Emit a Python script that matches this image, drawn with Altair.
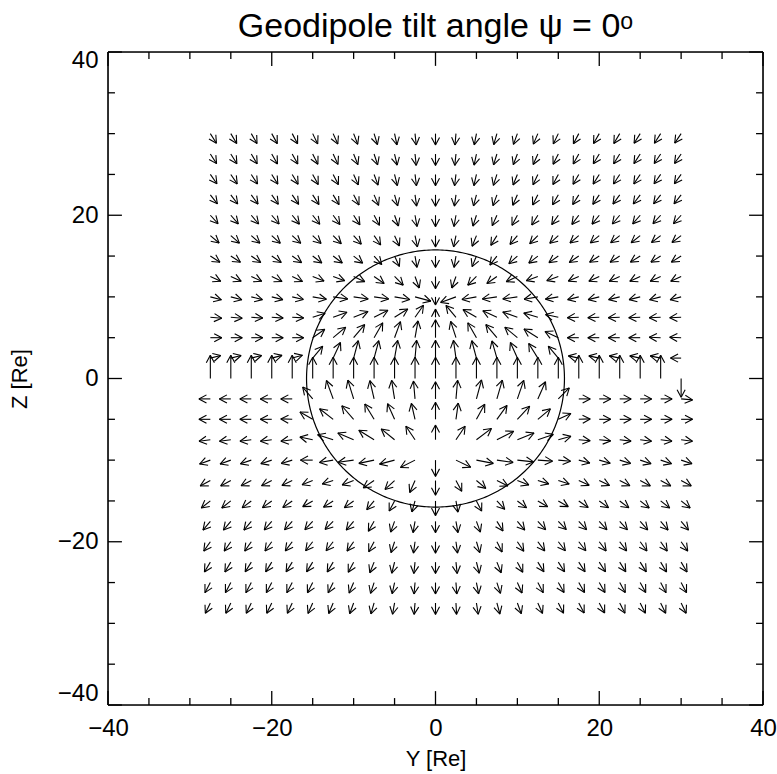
import math
import altair as alt
import pandas as pd

# ---- grid positions (data units) ----
Y_COLS = [-27.5, -25.0, -22.5, -20.0, -17.5, -15.0, -12.5, -10.0, -7.5, -5.0, -2.5, 0.0,
          2.5, 5.0, 7.5, 10.0, 12.5, 15.0, 17.5, 20.0, 22.5, 25.0, 27.5, 30.0]
Z_ROWS = [30.0, 27.5, 25.0, 22.5, 20.0, 17.5, 15.0, 12.5, 10.0, 7.5, 5.0, 2.5, 0.0,
          -2.5, -5.0, -7.5, -10.0, -12.5, -15.0, -17.5, -20.0, -22.5, -25.0, -27.5]

# ---- arrow directions (degrees, 0 = +Y, 90 = +Z), one list per row, top to bottom ----
ANG = [
    [-58, -59, -60, -61, -62, -64, -66, -69, -73, -78, -84, -90, -95, -101, -106, -110, -113, -116, -118, -120, -121, -122, -123, -124],
    [-57, -58, -59, -60, -61, -63, -65, -68, -72, -77, -84, -90, -96, -102, -107, -111, -114, -117, -119, -121, -122, -123, -124, -125],
    [-55, -56, -57, -58, -59, -61, -63, -66, -70, -76, -83, -90, -97, -103, -108, -112, -115, -118, -120, -122, -123, -124, -125, -126],
    [-52, -53, -54, -55, -56, -57, -59, -62, -67, -74, -82, -90, -98, -105, -110, -114, -117, -120, -122, -124, -126, -127, -128, -128],
    [-48, -49, -50, -50, -51, -52, -54, -57, -62, -70, -80, -90, -100, -108, -114, -118, -122, -125, -127, -129, -130, -131, -132, -132],
    [-40, -41, -41, -42, -42, -43, -45, -48, -55, -65, -78, -90, -102, -112, -122, -130, -135, -138, -140, -141, -142, -142, -143, -143],
    [-33, -33, -34, -34, -35, -37, -37, -38, -48, -65, -80, -90, -100, -112, -128, -138, -142, -145, -146, -147, -147, -148, -148, -148],
    [-25, -25, -25, -26, -26, -22, -20, -25, -35, -45, -70, -90, -110, -135, -145, -155, -160, -160, -156, -155, -155, -155, -155, -155],
    [-15, -15, -14, -14, -13, -10, -8, -8, -8, -10, -15, -90, -160, -170, -172, -172, -170, -170, -166, -166, -166, -166, -165, -165],
    [-5, -5, -4, -4, -3, 18, 20, 22, 27, 32, 55, 90, 130, 150, 155, 160, 163, 168, -178, -178, -178, -178, -178, -178],
    [0, 0, 0, 0, 0, 35, 40, 50, 60, 70, 80, 90, 108, 120, 130, 140, 148, 155, 180, 180, 180, 180, 178, 178],
    [14, 14, 14, 15, 16, 50, 65, 75, 75, 80, 85, 90, 98, 105, 106, 114, 122, 130, 168, 168, 168, 168, 168, 180],
    [90, 90, 90, 90, 90, 90, 90, 90, 90, 90, 90, 90, 90, 90, 90, 90, 90, 90, 90, 90, 90, 90, 90, -90],
    [180, 180, 180, 180, 180, 130, 110, 107, 103, 99, 95, 90, 85, 75, 74, 71, 66, 45, 0, 0, 0, 0, 0, -5],
    [180, 180, 180, 180, 178, 150, 142, 131, 121, 114, 103, 90, 82, 61, 54, 47, 40, 25, 2, 0, 0, 0, 0, 0],
    [-172, -172, -172, -172, -172, 168, 162, 157, 148, 141, 124, 90, 56, 37, 27, 22, 19, 15, -5, -6, -7, -8, -8, -8],
    [-160, -160, -161, -162, -163, 180, -170, -172, -168, -165, -153, -90, -26, -11, -8, -6, -4, -5, -15, -16, -17, -18, -18, -18],
    [-152, -152, -153, -153, -154, -158, -162, -159, -146, -137, -114, -90, -62, -40, -26, -21, -17, -18, -25, -26, -27, -28, -28, -28],
    [-142, -142, -143, -144, -145, -150, -147, -144, -130, -118, -106, -90, -80, -63, -47, -37, -31, -30, -35, -36, -37, -38, -38, -38],
    [-130, -130, -130, -131, -132, -133, -135, -130, -120, -110, -100, -90, -80, -70, -58, -50, -47, -46, -47, -48, -48, -49, -50, -50],
    [-125, -125, -125, -126, -127, -128, -128, -125, -118, -108, -98, -90, -82, -73, -63, -56, -53, -52, -52, -53, -53, -54, -55, -55],
    [-121, -121, -122, -122, -122, -122, -121, -118, -112, -104, -96, -90, -84, -76, -68, -62, -58, -57, -57, -57, -58, -58, -59, -59],
    [-118, -118, -118, -118, -118, -117, -116, -113, -108, -102, -95, -90, -86, -79, -72, -66, -62, -60, -60, -60, -61, -61, -62, -62],
    [-116, -116, -116, -116, -115, -114, -113, -110, -106, -100, -95, -90, -87, -81, -75, -70, -66, -63, -62, -62, -63, -63, -64, -64],
]

# ---- arrow lengths (data units), one list per row ----
LEN = [
    [1.4] * 24,
    [1.4] * 24,
    [1.4] * 24,
    [1.4] * 24,
    [1.4] * 24,
    [1.4] * 24,
    [1.4] * 24,
    [1.4, 1.4, 1.4, 1.4, 1.4, 1.5, 1.5, 1.5, 1.5, 1.5, 1.5, 1.5, 1.5, 1.5, 1.5, 1.5, 1.5, 1.5, 1.4, 1.4, 1.4, 1.4, 1.4, 1.4],
    [1.4, 1.4, 1.4, 1.4, 1.4, 1.7, 1.8, 1.8, 1.8, 1.9, 2.0, 1.0, 2.0, 1.8, 1.8, 1.8, 1.7, 1.6, 1.4, 1.4, 1.4, 1.4, 1.4, 1.4],
    [1.4, 1.4, 1.4, 1.4, 1.4, 1.6, 1.8, 1.9, 1.9, 1.9, 1.8, 1.0, 1.9, 1.9, 1.9, 1.9, 1.8, 1.6, 1.4, 1.4, 1.4, 1.4, 1.4, 1.4],
    [1.4, 1.4, 1.4, 1.4, 1.4, 1.8, 2.0, 2.1, 2.1, 2.1, 2.1, 2.2, 2.1, 2.1, 2.1, 2.0, 2.0, 1.8, 1.4, 1.4, 1.4, 1.4, 1.4, 1.4],
    [1.3, 1.3, 1.3, 1.3, 1.3, 1.9, 2.1, 2.2, 2.2, 2.2, 2.2, 2.2, 2.2, 2.2, 2.2, 2.1, 2.1, 1.9, 1.3, 1.3, 1.3, 1.3, 1.3, 1.3],
    [2.85, 2.85, 2.85, 2.85, 2.85, 2.6, 2.6, 2.6, 2.6, 2.6, 2.6, 2.6, 2.6, 2.6, 2.6, 2.6, 2.6, 2.6, 2.85, 2.85, 2.85, 2.85, 2.85, 2.3],
    [1.4, 1.4, 1.4, 1.4, 1.4, 1.9, 2.4, 2.4, 2.3, 2.3, 2.2, 2.1, 2.3, 2.4, 2.4, 2.4, 2.3, 1.9, 1.4, 1.4, 1.4, 1.4, 1.4, 1.4],
    [1.4, 1.4, 1.4, 1.4, 1.4, 1.8, 2.1, 2.2, 2.2, 2.1, 2.0, 2.1, 2.0, 2.1, 2.1, 2.2, 2.0, 1.7, 1.4, 1.4, 1.4, 1.4, 1.4, 1.4],
    [1.4, 1.4, 1.4, 1.4, 1.4, 1.6, 2.0, 2.1, 2.2, 2.1, 2.0, 1.8, 2.0, 2.3, 2.3, 2.2, 2.0, 1.6, 1.4, 1.4, 1.4, 1.4, 1.4, 1.4],
    [1.4, 1.4, 1.4, 1.4, 1.4, 1.5, 1.7, 1.9, 1.9, 1.9, 2.0, 2.0, 2.0, 2.1, 2.0, 2.0, 1.8, 1.5, 1.4, 1.4, 1.4, 1.4, 1.4, 1.4],
    [1.4, 1.4, 1.4, 1.4, 1.4, 1.4, 1.4, 1.5, 1.6, 1.6, 1.6, 1.8, 1.5, 1.5, 1.5, 1.5, 1.4, 1.4, 1.4, 1.4, 1.4, 1.4, 1.4, 1.4],
    [1.4, 1.4, 1.4, 1.4, 1.4, 1.4, 1.4, 1.4, 1.4, 1.4, 1.4, 1.8, 1.4, 1.4, 1.4, 1.4, 1.4, 1.4, 1.4, 1.4, 1.4, 1.4, 1.4, 1.4],
    [1.4] * 24,
    [1.4] * 24,
    [1.4] * 24,
    [1.4] * 24,
    [1.4] * 24,
]

CIRCLE_RADIUS = 15.75
CIRCLE_CENTER = (0.0, 0.0)
AXIS_RANGE = [-40, 40]
MAJOR_TICKS = [-40, -20, 0, 20, 40]
MINOR_TICKS = [-35, -30, -25, -15, -10, -5, 5, 10, 15, 25, 30, 35]
TITLE = "Geodipole tilt angle \u03c8 = 0\u1d52"

# style constants
HEAD_LEN = 1.05
HEAD_HALF_ANGLE = 28
MAJOR_LEN = 1.7
MINOR_LEN = 0.85
FONT = "Liberation Sans"

# ---- build arrow segments ----
segs = []
for r, z in enumerate(Z_ROWS):
    for k, y in enumerate(Y_COLS):
        th = math.radians(ANG[r][k])
        L = LEN[r][k]
        tx, tz = y + L * math.cos(th), z + L * math.sin(th)
        segs.append((y, z, tx, tz))
        for s in (1, -1):
            b = th + math.pi + s * math.radians(HEAD_HALF_ANGLE)
            segs.append((tx, tz, tx + HEAD_LEN * math.cos(b), tz + HEAD_LEN * math.sin(b)))
arrows = pd.DataFrame(segs, columns=["x", "y", "x2", "y2"])

# ---- frame and inward ticks ----
lo, hi = AXIS_RANGE
frame = pd.DataFrame([(lo, lo, hi, lo), (lo, hi, hi, hi), (lo, lo, lo, hi), (hi, lo, hi, hi)],
                     columns=["x", "y", "x2", "y2"])
ticks = []
for v in MAJOR_TICKS + MINOR_TICKS:
    ln = MAJOR_LEN if v in MAJOR_TICKS else MINOR_LEN
    ticks.append((v, lo, v, lo + ln))
    ticks.append((v, hi, v, hi - ln))
    ticks.append((lo, v, lo + ln, v))
    ticks.append((hi, v, hi - ln, v))
ticks = pd.DataFrame(ticks, columns=["x", "y", "x2", "y2"])

# ---- circle ----
circ = pd.DataFrame({
    "i": list(range(361)),
    "x": [CIRCLE_CENTER[0] + CIRCLE_RADIUS * math.cos(math.radians(a)) for a in range(361)],
    "y": [CIRCLE_CENTER[1] + CIRCLE_RADIUS * math.sin(math.radians(a)) for a in range(361)],
})

xscale = alt.Scale(domain=AXIS_RANGE, nice=False, zero=False)
yscale = alt.Scale(domain=AXIS_RANGE, nice=False, zero=False)

xaxis = alt.Axis(values=MAJOR_TICKS, ticks=False, domain=False, grid=False,
                 labelFont=FONT, labelFontSize=24, labelColor="black", labelPadding=11,
                 labelFlush=False,
                 title="Y [Re]", titleFont=FONT, titleFontSize=22, titleFontWeight="normal",
                 titleColor="black", titlePadding=8)
yaxis = alt.Axis(values=MAJOR_TICKS, ticks=False, domain=False, grid=False,
                 labelFont=FONT, labelFontSize=24, labelColor="black", labelPadding=10,
                 labelFlush=False, labelBaseline="middle",
                 labelOffset={"condition": [{"test": "datum.value == -40", "value": -12},
                                            {"test": "datum.value == 40", "value": 8}],
                              "value": 0},
                 title="Z [Re]", titleFont=FONT, titleFontSize=22, titleFontWeight="normal",
                 titleColor="black", titlePadding=26)

arrow_layer = alt.Chart(arrows).mark_rule(color="black", strokeWidth=1.1).encode(
    x=alt.X("x:Q", scale=xscale, axis=xaxis),
    y=alt.Y("y:Q", scale=yscale, axis=yaxis),
    x2="x2:Q", y2="y2:Q",
)
tick_layer = alt.Chart(ticks).mark_rule(color="black", strokeWidth=1.3).encode(
    x=alt.X("x:Q", scale=xscale), y=alt.Y("y:Q", scale=yscale), x2="x2:Q", y2="y2:Q",
)
frame_layer = alt.Chart(frame).mark_rule(color="black", strokeWidth=1.6).encode(
    x=alt.X("x:Q", scale=xscale), y=alt.Y("y:Q", scale=yscale), x2="x2:Q", y2="y2:Q",
)
circle_layer = alt.Chart(circ).mark_line(color="black", strokeWidth=1.2).encode(
    x=alt.X("x:Q", scale=xscale), y=alt.Y("y:Q", scale=yscale), order="i:Q",
)

chart = alt.layer(arrow_layer, circle_layer, tick_layer, frame_layer).properties(
    width=655, height=653,
    title=alt.TitleParams(TITLE, font=FONT, fontSize=34, fontWeight="normal",
                          color="black", anchor="middle", offset=4),
    autosize=alt.AutoSizeParams(type="none"),
    padding={"left": 108, "top": 52, "right": 14, "bottom": 69},
).configure_view(strokeWidth=0).configure(background="white")

chart.save("out.html", embed_options={"renderer": "svg", "actions": False})
